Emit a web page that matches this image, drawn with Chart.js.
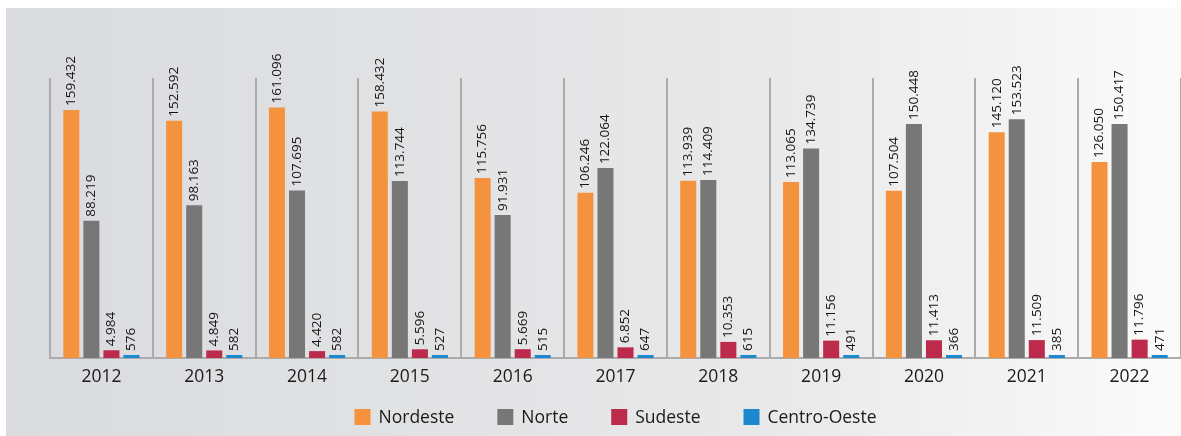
<!DOCTYPE html>
<html><head><meta charset="utf-8">
<script src="https://cdn.jsdelivr.net/npm/chart.js@4"></script>
<style>
html,body{margin:0;padding:0;width:1181px;height:436px;overflow:hidden;background:#fff;}
#panel{position:absolute;left:6px;top:8px;right:0;bottom:0;background:linear-gradient(to right,#dadbde 0%,#e1e2e4 35%,#e9e9ea 65%,#f4f4f4 87%,#fbfbfb 100%);}
#wrap{position:absolute;left:0;top:0;width:1181px;height:436px;}
</style></head><body>
<div id="panel"></div>
<div id="wrap"><canvas id="c" width="1181" height="436"></canvas></div>
<script>
const categories = ['2012','2013','2014','2015','2016','2017','2018','2019','2020','2021','2022'];
const nordeste = [159432,152592,161096,158432,115756,106246,113939,113065,107504,145120,126050];
const norte = [88219,98163,107695,113744,91931,122064,114409,134739,150448,153523,150417];
const sudeste = [4984,4849,4420,5596,5669,6852,10353,11156,11413,11509,11796];
const centroOeste = [576,582,582,527,515,647,615,491,366,385,471];
const seriesNames = ['Nordeste','Norte','Sudeste','Centro-Oeste'];
const seriesColors = ['#F4923E','#777777','#BC2A4C','#1E88CF'];

const FONT = '"Open Sans", "Noto Sans", sans-serif';
function fmt(v){ return String(v).replace(/\B(?=(\d{3})+(?!\d))/g,'.'); }

const labelPlugin = {
  id:'barLabels',
  afterDatasetsDraw(chart){
    const ctx = chart.ctx;
    ctx.save();
    ctx.font = '13.5px ' + FONT;
    ctx.fillStyle = '#141414';
    ctx.textAlign = 'left';
    ctx.textBaseline = 'middle';
    chart.data.datasets.forEach((ds, di) => {
      const meta = chart.getDatasetMeta(di);
      meta.data.forEach((bar, i) => {
        ctx.save();
        ctx.translate(bar.x, bar.y - 4);
        ctx.rotate(-Math.PI/2);
        ctx.fillText(fmt(ds.data[i]), 0, 0);
        ctx.restore();
      });
    });
    ctx.restore();
  }
};

const legendPlugin = {
  id:'customLegend',
  afterDraw(chart){
    const ctx = chart.ctx;
    const ds = chart.data.datasets;
    ctx.save();
    ctx.font = '17.5px ' + FONT;
    const box = 16, gapText = 8, gapItem = 43;
    const widths = ds.map(d => box + gapText + ctx.measureText(d.label).width);
    const total = widths.reduce((a,b)=>a+b,0) + gapItem*(ds.length-1);
    const ca = chart.chartArea;
    let x = (ca.left + ca.right)/2 - total/2;
    const cy = 417;
    ctx.textBaseline = 'middle';
    ctx.textAlign = 'left';
    ds.forEach((d, i) => {
      ctx.fillStyle = d.backgroundColor;
      ctx.fillRect(x, cy - box/2, box, box);
      ctx.fillStyle = '#1a1a1a';
      ctx.fillText(d.label, x + box + gapText, cy + 1);
      x += widths[i] + gapItem;
    });
    ctx.restore();
  }
};

const seriesData = [nordeste, norte, sudeste, centroOeste];
new Chart(document.getElementById('c'), {
  type:'bar',
  data:{
    labels: categories,
    datasets: seriesData.map((d,i)=>({
      label: seriesNames[i],
      data: d,
      backgroundColor: seriesColors[i],
      barPercentage: 0.8,
      categoryPercentage: 0.78,
      minBarLength: i === 3 ? 3 : 0
    }))
  },
  options:{
    responsive:false,
    animation:false,
    devicePixelRatio:1,
    layout:{padding:{left:50,right:0,top:78,bottom:39}},
    plugins:{legend:{display:false},tooltip:{enabled:false}},
    scales:{
      x:{
        offset:true,
        grid:{display:true, offset:true, color:'#ababab', lineWidth:2, drawTicks:false},
        border:{display:true, color:'#ababab', width:2},
        ticks:{color:'#1a1a1a', padding:9, font:{family:FONT, size:17.5}}
      },
      y:{display:false, min:0, max:180000}
    }
  },
  plugins:[labelPlugin, legendPlugin]
});
</script>
</body></html>
